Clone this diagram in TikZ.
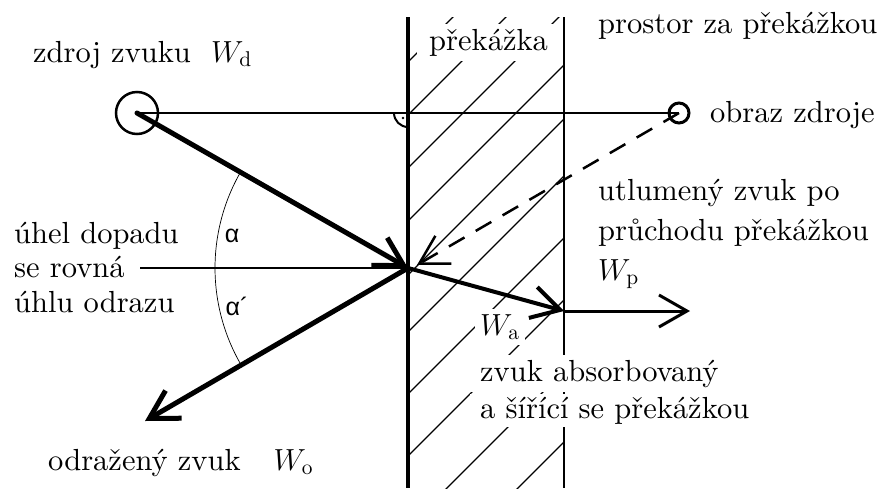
\RequirePackage{fix-cm}
\documentclass[tikz,border=0pt]{standalone}
\usepackage{fontspec}
\setmainfont{lmroman10-regular.otf}[ItalicFont=lmroman10-italic.otf, BoldFont=lmroman10-bold.otf]
\newfontfamily\greekfont{Liberation Sans}
\usetikzlibrary{arrows.meta}
\begin{document}
\begin{tikzpicture}[x=1pt,y=-1pt,
  txt/.style={font=\fontsize{30.5}{35}\selectfont, inner sep=0pt, anchor=base west},
  boxtxt/.style={txt, fill=white, inner xsep=4pt, inner ysep=5pt},
  tip/.style={-{Straight Barb[length=28pt,width=32pt]}},
  ray/.style={tip, line width=5pt},
  hatchline/.style={line width=1.2pt},
  greek/.style={font=\greekfont\fontsize{25}{28}\selectfont, inner sep=0pt}]
\useasboundingbox (0,0) rectangle (880,488);
% coordinates
\coordinate (S) at (137,113);
\coordinate (Im) at (679,113);
\coordinate (P) at (408,268);
\coordinate (R) at (145,421);
\coordinate (Q) at (564,311);
\coordinate (E) at (690,311);
\coordinate (D) at (417,265);
\coordinate (H) at (140,268);
\coordinate (WLt) at (408,17);
\coordinate (WLb) at (408,488);
\coordinate (WRt) at (564,17);
\coordinate (WRb) at (564,488);
% hatching
\begin{scope}
  \clip (408,17) rectangle (564,488);
  \foreach \c in {470,523,576,629,683,740,802,864,935,1006}
    \draw[hatchline] ({\c-500},500) -- (\c,0);
\end{scope}
% walls
\draw[line width=3.5pt] (WLt) -- (WLb);
\draw[line width=2.3pt] (WRt) -- (WRb);
% source and image
\draw[line width=2pt] (S) -- (Im);
\node[circle, draw, line width=2.5pt, minimum size=42pt, inner sep=0pt] (src) at (S) {};
\node[circle, draw, line width=3pt, minimum size=20pt, inner sep=0pt] (img) at (Im) {};
% right angle mark
\draw[line width=2pt] (408,127) arc[start angle=90, end angle=180, radius=14];
\fill (403,118) circle (1.4);
% texts
\node[txt] (tsrc) at (33,62) {zdroj zvuku\ \ $W_{\mathrm{d}}$};
\node[boxtxt, inner xsep=12pt] (tprek) at (417,50) {překážka};
\node[txt] (tprostor) at (598,33) {prostor za překážkou};
\node[txt] (tobraz) at (710,122) {obraz zdroje};
\node[txt] (tutl1) at (598,200) {utlumený zvuk po};
\node[txt] (tutl2) at (598,240) {průchodu překážkou};
\node[txt] (tWp) at (598,280) {$W_{\mathrm{p}}$};
\node[txt] (tuhel1) at (14,243) {úhel dopadu};
\node[txt] (tuhel2) at (14,277) {se rovná};
\node[txt] (tuhel3) at (14,312) {úhlu odrazu};
\node[boxtxt, inner sep=5pt] (tWa) at (475,335) {$W_{\mathrm{a}}$};
\node[boxtxt, inner xsep=10pt, inner ysep=5pt] (tabs1) at (470,381) {zvuk absorbovaný};
\node[boxtxt, inner xsep=10pt, inner ysep=3pt] (tabs2) at (470,418) {a šířící se překážkou};
\node[txt] (todr) at (48,470) {odražený zvuk\hspace{33pt}$W_{\mathrm{o}}$};
\node[greek] (al1) at (232,236) {α};
\node[greek] (al2) at (237,306) {α´};
% rays
\draw[line width=1.5pt] (H) -- (P);
\draw[line width=0.7pt] (P) ++(149.8:193) arc[start angle=149.8, end angle=209.8, radius=193];
\draw[ray, line cap=round] (src.center) -- (P);
\draw[ray] (P) -- (R);
\draw[tip, line width=4pt] (P) -- (Q);
\draw[tip, line width=3pt] (Q) -- (E);
\draw[tip, line width=2.5pt, dash pattern=on 18pt off 13pt] (img.center) -- (D);
\end{tikzpicture}
\end{document}
